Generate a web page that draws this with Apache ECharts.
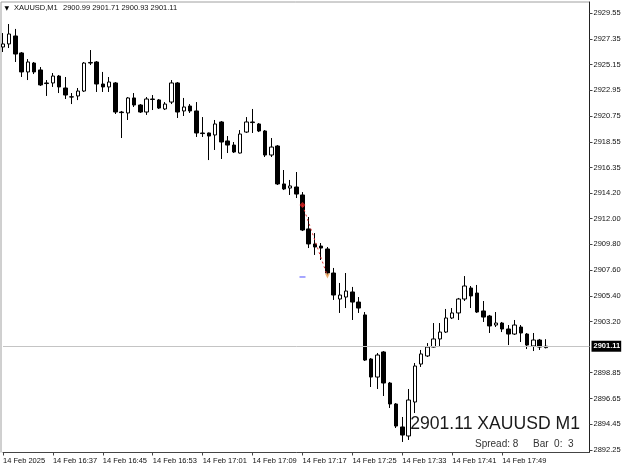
<!DOCTYPE html>
<html>
<head>
<meta charset="utf-8">
<script src="https://cdn.jsdelivr.net/npm/echarts@6.0.0/dist/echarts.min.js"></script>
<style>
html,body{margin:0;padding:0;background:#fff;}
#chart{width:625px;height:469px;}
</style>
</head>
<body>
<div id="chart"></div>
<script>
// ---- data ----
const symbolName = 'XAUUSD,M1';
const headerOHLC = '2900.99 2901.71 2900.93 2901.11';
const startMinute = 16 * 60 + 29;   // first bar 16:29
const slotCount = 95;                // visible time slots on the axis
const opens = [2926.65,2926.91,2927.59,2926.14,2924.52,2925.28,2924.69,2923.58,2923.58,2924.17,
2923.15,2922.38,2922.47,2922.89,2925.28,2925.37,2923.49,2923.24,2923.58,2921.10,
2921.02,2922.30,2921.70,2921.10,2922.21,2922.13,2921.36,2921.95,2923.58,2921.19,
2921.61,2921.19,2919.31,2919.31,2919.14,2920.25,2918.63,2918.28,2917.60,2919.39,
2920.25,2920.08,2919.48,2917.43,2918.20,2914.96,2914.61,2914.70,2914.02,2911.12,
2909.84,2909.66,2909.41,2907.36,2905.14,2905.31,2905.74,2904.88,2903.78,2900.02,
2898.48,2900.62,2897.97,2896.18,2894.22,2893.45,2896.35,2899.59,2900.28,2901.04,
2901.73,2902.32,2903.52,2903.95,2905.14,2906.08,2905.65,2904.12,2903.69,2902.92,
2903.09,2902.58,2902.15,2902.75,2902.15,2901.13,2901.64,2900.99];
const closes = [2926.91,2927.76,2926.05,2924.52,2925.37,2924.52,2923.41,2923.53,2924.17,2923.24,
2922.55,2922.40,2922.89,2925.28,2925.33,2923.49,2923.24,2923.66,2921.10,2921.05,
2922.30,2921.70,2921.10,2922.21,2922.17,2921.44,2921.78,2923.58,2921.10,2921.53,
2921.19,2919.31,2919.26,2919.05,2920.08,2918.54,2918.28,2917.69,2919.22,2920.25,
2920.20,2919.48,2917.43,2918.11,2914.96,2914.53,2914.79,2914.10,2911.03,2909.84,
2909.58,2909.49,2907.36,2905.48,2905.48,2905.82,2904.88,2904.37,2899.93,2898.48,
2900.36,2897.97,2896.18,2894.30,2893.53,2896.52,2899.42,2900.45,2901.04,2901.73,
2902.32,2903.52,2903.95,2905.14,2906.25,2905.40,2904.03,2903.60,2902.84,2903.09,
2902.58,2902.15,2902.92,2902.24,2901.21,2901.64,2901.04,2901.11];
const lows = [2926.22,2926.56,2925.37,2924.09,2923.83,2924.34,2923.32,2922.47,2923.24,2922.72,
2922.21,2921.78,2922.12,2922.81,2925.11,2922.81,2922.81,2922.81,2920.93,2918.88,
2920.42,2921.53,2921.02,2920.85,2921.27,2921.36,2921.27,2921.78,2920.59,2920.76,
2921.02,2918.97,2918.97,2917.00,2917.86,2917.09,2917.60,2917.60,2917.56,2919.31,
2919.31,2919.39,2917.26,2917.26,2914.87,2914.44,2914.02,2913.76,2910.94,2909.49,
2908.90,2908.47,2907.19,2905.06,2903.95,2904.37,2903.35,2903.95,2899.85,2897.63,
2897.46,2896.86,2895.84,2894.13,2892.94,2893.11,2895.41,2899.34,2900.19,2901.00,
2901.13,2902.24,2903.43,2903.35,2904.97,2904.37,2903.95,2903.18,2902.24,2902.75,
2902.32,2901.21,2902.07,2901.47,2900.87,2900.70,2900.79,2900.93];
const highs = [2927.84,2928.61,2928.19,2926.22,2925.62,2925.37,2924.94,2923.83,2924.43,2924.26,
2924.09,2922.72,2923.15,2925.37,2926.39,2925.45,2924.52,2924.09,2923.66,2921.19,
2922.38,2922.72,2921.78,2922.38,2922.55,2922.21,2921.95,2923.83,2923.66,2922.30,
2921.78,2921.95,2920.67,2919.35,2920.42,2920.33,2919.05,2918.54,2919.56,2920.67,
2921.36,2920.16,2919.56,2918.88,2918.28,2916.15,2915.30,2915.98,2914.27,2912.14,
2910.77,2909.92,2909.58,2907.79,2906.51,2907.36,2906.17,2905.31,2904.03,2900.10,
2900.53,2900.70,2898.06,2896.26,2895.07,2897.46,2899.68,2900.79,2901.38,2903.09,
2903.09,2904.29,2904.37,2905.23,2907.10,2906.25,2906.34,2904.97,2903.78,2904.03,
2903.18,2902.92,2903.35,2902.92,2902.24,2902.24,2901.73,2901.71];
const xTickLabels = ['14 Feb 2025','14 Feb 16:37','14 Feb 16:45','14 Feb 16:53','14 Feb 17:01','14 Feb 17:09',
  '14 Feb 17:17','14 Feb 17:25','14 Feb 17:33','14 Feb 17:41','14 Feb 17:49'];
const xTickStep = 8;
const yTickLabels = ['2929.55','2927.35','2925.15','2922.95','2920.75','2918.55','2916.35','2914.20','2912.00',
  '2909.80','2907.60','2905.40','2903.20','2898.85','2896.65','2894.45','2892.25'];
const currentPrice = 2901.11;
const tradeEntry = [48, 2913.16];
const tradeExit = [52, 2907.10];
const tradeLevel = [48, 2907.02];
const spreadText = 'Spread: 8';
const barText = 'Bar  0:  3';

// ---- build ----
const categories = [];
for (let i = 0; i < slotCount; i++) {
  const m = startMinute + i;
  const hh = String(Math.floor(m / 60)).padStart(2, '0');
  const mm = String(m % 60).padStart(2, '0');
  categories.push(hh + ':' + mm);
}
const candles = opens.map((o, i) => [o, closes[i], lows[i], highs[i]]);
const yTickValues = yTickLabels.map(Number);
const lastTick = xTickStep * (xTickLabels.length - 1);
const showX = (idx) => idx % xTickStep === 0 && idx <= lastTick;
const FONT = "'Liberation Sans', Arial, sans-serif";

const chart = echarts.init(document.getElementById('chart'), null, {renderer: 'canvas'});
chart.setOption({
  animation: false,
  backgroundColor: '#ffffff',
  grid: {left: 2.7, right: 35.5, top: 2, bottom: 16.5, show: false},
  xAxis: {
    type: 'category',
    data: categories,
    boundaryGap: false,
    axisLine: {show: true, lineStyle: {color: '#444', width: 1}},
    axisTick: {show: true, interval: showX, length: 3, lineStyle: {color: '#444'}},
    axisLabel: {
      show: true, interval: showX, align: 'left', margin: 4,
      fontSize: 7.5, fontFamily: FONT, color: '#111',
      formatter: (v, idx) => xTickLabels[idx / xTickStep] || ''
    },
    splitLine: {show: false}
  },
  yAxis: {
    type: 'value',
    position: 'right',
    min: 2892.04,
    max: 2930.49,
    axisLine: {show: true, onZero: false, lineStyle: {color: '#222', width: 1}},
    axisTick: {show: true, customValues: yTickValues, length: 3, lineStyle: {color: '#444'}},
    axisLabel: {
      show: true, customValues: yTickValues, margin: 4, fontSize: 7.5, fontFamily: FONT, color: '#111',
      formatter: (v) => Number(v).toFixed(2)
    },
    splitLine: {show: false}
  },
  series: [
    {
      type: 'candlestick',
      data: candles,
      barWidth: 4,
      clip: false,
      itemStyle: {color: '#ffffff', color0: '#000000', borderColor: '#000000', borderColor0: '#000000', borderWidth: 1},
      markLine: {
        silent: true,
        symbol: 'none',
        animation: false,
        data: [{yAxis: currentPrice}],
        lineStyle: {color: '#c4c4c4', type: 'solid', width: 1},
        label: {
          position: 'end', distance: 2, formatter: currentPrice.toFixed(2),
          backgroundColor: '#000', color: '#fff', fontSize: 7.5, fontFamily: FONT,
          fontWeight: 'bold', padding: [2, 1, 1, 2]
        }
      }
    },
    {
      type: 'line',
      data: [tradeEntry, tradeExit],
      showSymbol: false,
      silent: true,
      lineStyle: {color: '#e03030', type: [2, 3], width: 1}
    },
    {
      type: 'scatter',
      data: [tradeEntry],
      symbol: 'diamond',
      symbolSize: 6,
      silent: true,
      itemStyle: {color: '#e02020'}
    },
    {
      type: 'scatter',
      data: [tradeExit],
      symbol: 'triangle',
      symbolSize: 5,
      symbolRotate: 180,
      silent: true,
      itemStyle: {color: '#e8a050'}
    },
    {
      type: 'scatter',
      data: [tradeLevel],
      symbol: 'rect',
      symbolSize: [6, 1.5],
      silent: true,
      itemStyle: {color: '#6a6aff'}
    }
  ],
  graphic: [
    {type: 'line', shape: {x1: 1, y1: 2, x2: 1, y2: 452.5}, style: {stroke: '#a0a0a0', lineWidth: 1}, silent: true},
    {type: 'line', shape: {x1: 1, y1: 2, x2: 589.5, y2: 2}, style: {stroke: '#a0a0a0', lineWidth: 1}, silent: true},
    {type: 'text', x: 4.5, y: 8, silent: true,
      style: {text: '▼', fontSize: 6, fontFamily: "'DejaVu Sans', sans-serif", fill: '#000', align: 'left', verticalAlign: 'middle'}},
    {type: 'text', x: 14, y: 8, silent: true,
      style: {text: symbolName, fontSize: 7.5, fontFamily: FONT, fill: '#111', align: 'left', verticalAlign: 'middle'}},
    {type: 'text', x: 63, y: 8, silent: true,
      style: {text: headerOHLC, fontSize: 7.5, fontFamily: FONT, fill: '#111', align: 'left', verticalAlign: 'middle'}},
    {type: 'text', x: 580, y: 424, silent: true,
      style: {text: currentPrice.toFixed(2) + ' XAUUSD M1', fontSize: 17.6, fontFamily: FONT, fill: '#1a1a1a', align: 'right', verticalAlign: 'middle'}},
    {type: 'text', x: 475, y: 444, silent: true,
      style: {text: spreadText, fontSize: 10, fontFamily: FONT, fill: '#333', align: 'left', verticalAlign: 'middle'}},
    {type: 'text', x: 533, y: 444, silent: true,
      style: {text: barText, fontSize: 10, fontFamily: FONT, fill: '#333', align: 'left', verticalAlign: 'middle'}}
  ]
});
</script>
</body>
</html>
